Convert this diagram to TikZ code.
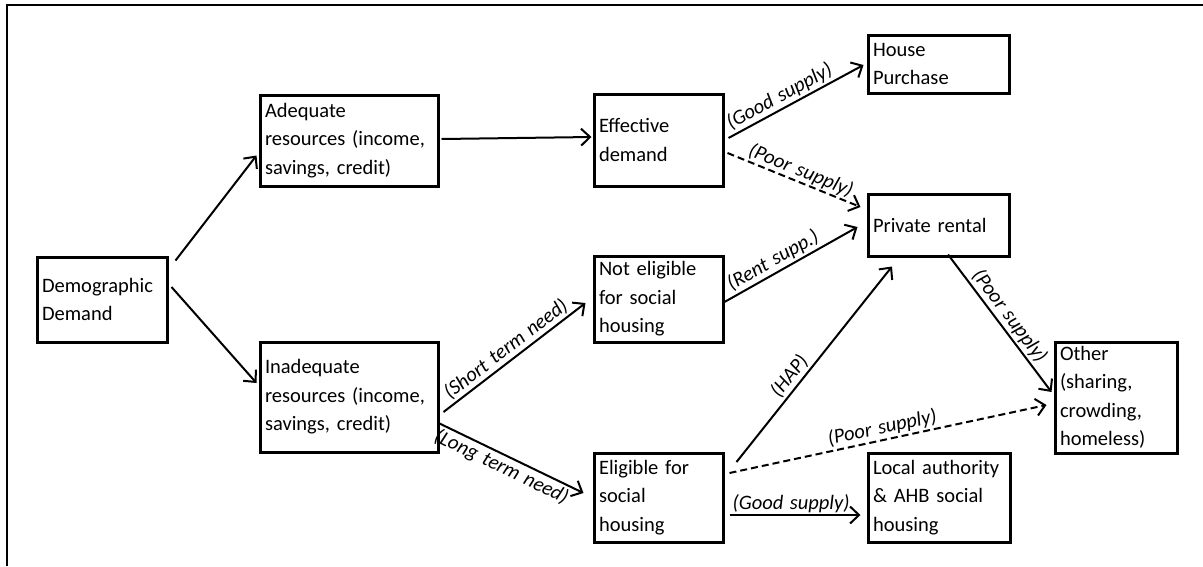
\documentclass[tikz,border=0pt]{standalone}
\usepackage{fontspec}
\setmainfont{Carlito}
\usetikzlibrary{arrows.meta}
\newcommand\mylabfont{\fontsize{20.5}{24}\selectfont\itshape\spaceskip=6.5pt plus 2pt\relax}
\begin{document}
\begin{tikzpicture}[x=1pt,y=-1pt,
  box/.style={draw, line width=3pt, align=left, inner xsep=5pt, inner ysep=0pt,
    font=\fontsize{20.5}{28.5}\selectfont, anchor=center},
  arr/.style={line width=2pt, -{Straight Barb[length=9pt,width=17pt,line width=2pt]}},
  dsh/.style={arr, dash pattern=on 7pt off 4pt},
  lab/.style={font=\mylabfont, sloped, inner sep=2pt}]
\useasboundingbox (0,0) rectangle (1203,566);
\draw[line width=2pt] (7,566) coordinate (fa) -- (7,5) coordinate (fb) -- (1203,5) coordinate (fc);

\node[box, text width=120pt, minimum height=85pt] (demo) at (102,299.5) {Demographic\\Demand};
\node[box, text width=168pt, minimum height=91pt] (adeq) at (349,140.5) {Adequate\\resources (income,\\savings, credit)};
\node[box, text width=119pt, minimum height=92pt] (eff) at (658.5,140) {Effective\\demand};
\node[box, text width=131pt, minimum height=58pt] (house) at (938.5,64) {House\\Purchase};
\node[box, text width=131pt, minimum height=62pt] (priv) at (938.5,225) {Private rental};
\node[box, text width=119pt, minimum height=86pt] (note) at (658.5,299) {Not eligible\\for social\\housing};
\node[box, text width=168pt, minimum height=110pt] (inad) at (349,397) {Inadequate\\resources (income,\\savings, credit)};
\node[box, text width=119pt, minimum height=89pt] (elig) at (658.5,497.5) {Eligible for\\social\\housing};
\node[box, text width=132pt, minimum height=89pt] (local) at (939,497.5) {Local authority\\\& AHB social\\housing};
\node[box, text width=112pt, minimum height=111pt] (other) at (1116,397.5) {Other\\(sharing,\\crowding,\\homeless)};

\draw[arr] ([shift={(7,5)}]demo.north east) -- ([shift={(-2,15)}]adeq.west);
\draw[arr] ([shift={(3,-12.5)}]demo.east) -- ([shift={(-2,-14)}]inad.west);
\draw[arr] ([shift={(2,-1.5)}]adeq.east) -- ([shift={(-1,-3)}]eff.west);
\draw[arr] ([shift={(4,-2)}]eff.east) -- node[lab, above, pos=0.42] {(Good supply)} ([shift={(-3,1)}]house.west);
\draw[dsh] ([shift={(3,13)}]eff.east) -- node[lab, above, pos=0.52, inner sep=1pt] {(Poor supply)} ([shift={(-6,-18)}]priv.west);
\draw[arr] ([shift={(0,3)}]note.east) -- node[lab, above, pos=0.41] {(Rent supp.)} ([shift={(-9,2)}]priv.west);
\draw[arr] ([shift={(4,15)}]inad.east) -- node[lab, above, pos=0.49] {(Short term need)} ([shift={(-7,4)}]note.west);
\draw[arr] ([shift={(-1,26)}]inad.east) -- node[lab, below, pos=0.47] {(Long term need)} ([shift={(-9,-4.5)}]elig.west);
\draw[arr] ([shift={(12,-35.5)}]elig.east) -- node[lab, above, pos=0.4] {(HAP)} ([shift={(-46.5,9)}]priv.south);
\draw[arr] ([shift={(9.5,-3)}]priv.south) -- node[lab, above, pos=0.5] {(Poor supply)} ([shift={(-2,-5.5)}]other.west);
\draw[dsh] ([shift={(5,-24.5)}]elig.east) -- node[lab, above, pos=0.49] {(Poor supply)} ([shift={(-7,7.5)}]other.west);
\draw[arr] ([shift={(5,17.5)}]elig.east) -- node[lab, above, pos=0.47, inner sep=1pt] {(Good supply)} ([shift={(-6,17.5)}]local.west);
\end{tikzpicture}
\end{document}
